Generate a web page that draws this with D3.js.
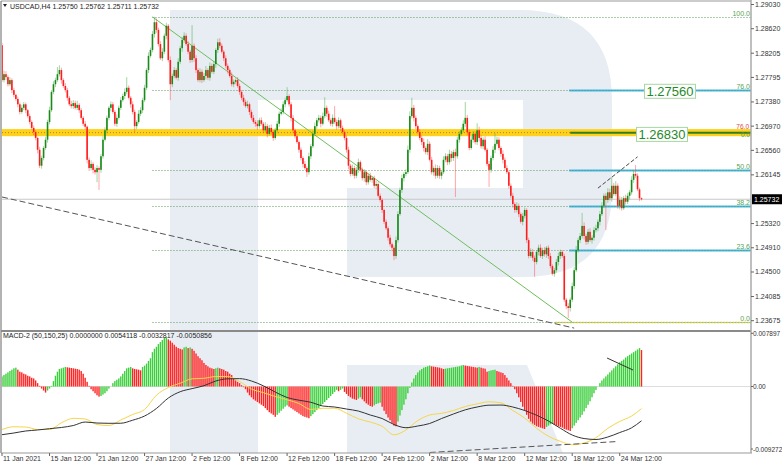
<!DOCTYPE html>
<html><head><meta charset="utf-8">
<script src="https://cdn.jsdelivr.net/npm/d3@7/dist/d3.min.js"></script>
<style>
html,body{margin:0;padding:0;background:#fff;}
svg{display:block;font-family:"Liberation Sans",Arial,sans-serif;}
</style></head><body>
<svg id="c" width="782" height="465"></svg>
<script>
// ---------------- DATA ----------------
const symbol = "USDCAD,H4";
const lastOHLC = [1.25750, 1.25762, 1.25711, 1.25732];
const firstOpen = 1.2834;
const closes = [
1.2775,1.2785,1.2780,1.2768,1.2775,1.2758,1.2750,1.2743,1.2734,1.2721,
1.2728,1.2734,1.2724,1.2714,1.2704,1.2694,1.2687,1.2677,1.2657,1.2630,
1.2643,1.2660,1.2674,1.2704,1.2724,1.2755,1.2768,1.2775,1.2785,1.2792,
1.2775,1.2765,1.2758,1.2745,1.2734,1.2731,1.2736,1.2728,1.2733,1.2724,
1.2711,1.2701,1.2696,1.2640,1.2626,1.2633,1.2623,1.2619,1.2626,1.2623,
1.2646,1.2674,1.2690,1.2711,1.2728,1.2734,1.2721,1.2701,1.2711,1.2728,
1.2741,1.2748,1.2755,1.2762,1.2745,1.2734,1.2721,1.2697,1.2704,1.2718,
1.2724,1.2741,1.2762,1.2792,1.2816,1.2826,1.2853,1.2873,1.2860,1.2836,
1.2812,1.2823,1.2850,1.2867,1.2809,1.2768,1.2782,1.2792,1.2779,1.2806,
1.2829,1.2843,1.2850,1.2836,1.2823,1.2809,1.2833,1.2812,1.2792,1.2775,
1.2789,1.2775,1.2782,1.2792,1.2779,1.2799,1.2789,1.2802,1.2826,1.2839,
1.2833,1.2823,1.2812,1.2799,1.2792,1.2782,1.2768,1.2772,1.2775,1.2765,
1.2755,1.2745,1.2738,1.2731,1.2734,1.2721,1.2711,1.2704,1.2701,1.2697,
1.2707,1.2701,1.2690,1.2697,1.2684,1.2694,1.2687,1.2677,1.2690,1.2701,
1.2718,1.2721,1.2734,1.2741,1.2748,1.2734,1.2711,1.2690,1.2680,1.2670,
1.2657,1.2643,1.2633,1.2626,1.2619,1.2646,1.2663,1.2684,1.2697,1.2707,
1.2711,1.2701,1.2714,1.2728,1.2718,1.2707,1.2701,1.2711,1.2704,1.2697,
1.2707,1.2694,1.2687,1.2677,1.2657,1.2630,1.2616,1.2626,1.2613,1.2623,
1.2636,1.2623,1.2609,1.2619,1.2602,1.2613,1.2606,1.2609,1.2596,1.2599,
1.2579,1.2572,1.2555,1.2535,1.2524,1.2508,1.2497,1.2491,1.2477,1.2504,
1.2548,1.2589,1.2609,1.2616,1.2619,1.2657,1.2714,1.2728,1.2711,1.2697,
1.2687,1.2677,1.2670,1.2660,1.2653,1.2667,1.2640,1.2619,1.2626,1.2613,
1.2626,1.2613,1.2619,1.2640,1.2646,1.2636,1.2650,1.2643,1.2653,1.2646,
1.2674,1.2684,1.2690,1.2701,1.2711,1.2687,1.2660,1.2674,1.2684,1.2670,
1.2690,1.2677,1.2663,1.2674,1.2657,1.2633,1.2623,1.2643,1.2657,1.2667,
1.2674,1.2660,1.2650,1.2640,1.2626,1.2619,1.2596,1.2579,1.2565,1.2555,
1.2562,1.2548,1.2535,1.2545,1.2555,1.2504,1.2477,1.2484,1.2474,1.2467,
1.2484,1.2491,1.2477,1.2487,1.2480,1.2491,1.2477,1.2460,1.2447,1.2453,
1.2467,1.2477,1.2484,1.2477,1.2403,1.2392,1.2389,1.2403,1.2426,1.2453,
1.2487,1.2504,1.2511,1.2528,1.2511,1.2501,1.2518,1.2504,1.2508,1.2521,
1.2524,1.2535,1.2548,1.2562,1.2579,1.2572,1.2585,1.2575,1.2596,1.2582,
1.2596,1.2562,1.2572,1.2558,1.2575,1.2569,1.2579,1.2585,1.2606,1.2616,
1.2613,1.2590,1.2575,1.25732];
// wick lengths beyond the body, in pips (0.0001)
const wickUp = [
4,6,5,3,5,3,4,2,4,3,5,4,3,2,4,3,4,3,2,5,
4,3,5,4,6,3,5,4,12,8,4,3,5,4,3,6,5,4,7,3,
4,3,5,2,4,6,3,4,5,3,4,6,5,4,3,5,4,3,6,4,
5,4,6,18,4,3,5,4,3,6,5,4,5,3,6,4,5,9,6,4,
5,6,4,5,3,6,4,5,3,6,4,5,6,4,5,3,35,4,5,3,
6,4,5,7,3,6,4,5,3,6,7,4,3,5,4,3,6,4,3,5,
4,3,5,4,6,3,4,5,3,6,4,5,3,7,4,5,6,3,4,5,
4,6,5,4,15,3,4,5,3,4,3,4,3,5,3,6,4,5,6,4,
5,4,6,18,4,5,3,6,20,4,5,3,4,3,4,5,3,6,4,5,
6,3,4,5,3,4,5,3,4,5,3,4,3,2,4,3,5,3,4,6,
5,4,6,3,5,7,8,17,5,4,3,5,4,6,3,8,4,5,3,6,
5,4,3,6,5,4,7,5,4,6,5,4,5,6,27,5,4,6,5,4,
12,6,5,4,6,3,5,4,6,18,5,4,3,6,4,5,3,4,5,3,
6,4,3,5,4,3,4,6,5,4,3,5,6,4,5,3,4,5,3,4,
5,6,4,3,4,3,5,4,6,5,7,4,5,22,6,4,5,6,4,5,
6,4,5,6,4,5,7,6,15,5,8,4,6,5,4,6,5,4,6,5,
15,4,3,1];
const wickDn = [
3,4,5,4,3,5,4,3,5,4,3,4,5,3,4,3,5,4,6,4,
5,4,3,5,4,3,4,5,3,4,6,3,4,5,3,4,5,3,4,5,
3,4,5,6,5,4,6,4,17,34,5,4,3,5,4,6,3,4,5,3,
4,3,5,4,3,6,4,10,5,3,4,5,3,4,5,3,4,6,5,4,
3,5,4,6,4,27,5,4,3,5,4,6,5,3,4,5,4,6,5,3,
4,5,3,6,4,5,3,4,6,5,4,3,5,4,6,3,4,5,4,3,
5,4,6,3,4,5,4,3,5,6,4,3,5,4,6,3,4,5,3,4,
5,3,4,5,3,4,6,5,4,3,5,4,6,3,8,4,5,3,4,5,
4,6,3,4,5,3,4,5,3,6,4,5,3,4,5,6,4,3,5,4,
5,3,4,6,5,4,3,5,4,6,3,4,5,4,3,5,4,6,7,5,
4,3,5,6,4,3,5,4,6,5,3,4,5,6,4,5,3,4,6,5,
4,5,6,3,4,5,4,6,5,69,4,5,3,4,5,6,4,3,5,4,
5,6,4,5,3,4,29,5,4,6,3,4,5,6,4,3,5,4,6,5,
4,5,3,6,4,5,4,3,5,25,4,6,3,5,4,6,5,4,3,5,
4,6,5,3,4,5,17,6,4,5,3,4,5,4,6,5,4,3,6,5,
4,5,6,3,4,51,5,4,6,3,4,5,6,4,3,5,4,6,4,5,
4,3,5,2];
const macdHist = [
0.0015,0.0017,0.0019,0.0021,0.0023,0.0025,0.0027,0.0028,0.0025,0.0022,
0.0021,0.0019,0.0018,0.0016,0.0015,0.0013,0.0012,0.0009,0.0005,0.0001,
-0.0003,-0.0006,-0.0009,-0.0006,-0.0003,0.0001,0.0008,0.0016,0.0022,0.0026,
0.0027,0.0028,0.0029,0.00285,0.0028,0.00275,0.0027,0.00265,0.0026,0.0025,
0.0023,0.0019,0.0013,0.0007,0.0001,-0.0004,-0.0007,-0.0010,-0.0013,-0.0015,
-0.0014,-0.0012,-0.0010,-0.0007,-0.0003,0.0000,0.0005,0.0008,0.0010,0.0012,
0.0015,0.0019,0.0023,0.0027,0.0028,0.0029,0.0027,0.0026,0.00255,0.0025,
0.0024,0.0029,0.0031,0.0034,0.0038,0.0042,0.0051,0.0056,0.0059,0.0063,
0.0066,0.0069,0.0072,0.0073,0.0070,0.0068,0.0065,0.0062,0.0059,0.0057,
0.0056,0.0055,0.0058,0.0059,0.0057,0.0058,0.0056,0.0053,0.0049,0.0045,
0.0042,0.0039,0.0035,0.0032,0.0030,0.0028,0.0027,0.0026,0.0027,0.0028,
0.0027,0.0026,0.0025,0.0023,0.0022,0.0019,0.0017,0.0012,0.0009,0.0007,
0.0005,0.0002,-0.0001,-0.0004,-0.0009,-0.0013,-0.0016,-0.0019,-0.0021,-0.0023,
-0.0025,-0.0027,-0.0029,-0.0032,-0.0035,-0.0038,-0.0040,-0.0042,-0.0045,-0.0042,
-0.0039,-0.0036,-0.0033,-0.0030,-0.0028,-0.0030,-0.0032,-0.0034,-0.0036,-0.0038,
-0.0040,-0.0042,-0.0044,-0.0045,-0.0046,-0.0047,-0.0044,-0.0041,-0.0038,-0.0035,
-0.0032,-0.0029,-0.0026,-0.0023,-0.0020,-0.0017,-0.0014,-0.0011,-0.0008,-0.0005,
-0.0007,-0.0005,-0.0003,-0.0008,-0.0011,-0.0014,-0.0016,-0.0018,-0.0019,-0.0020,
-0.0018,-0.0016,-0.0019,-0.0022,-0.0025,-0.0027,-0.0029,-0.0030,-0.0028,-0.0026,
-0.0025,-0.0024,-0.0030,-0.0036,-0.0041,-0.0046,-0.0050,-0.0054,-0.0058,-0.0059,
-0.0052,-0.0043,-0.0035,-0.0027,-0.0019,-0.0010,-0.0002,0.0006,0.0012,0.0017,
0.0021,0.0024,0.0026,0.0028,0.0029,0.0030,0.0031,0.0030,0.00295,0.0029,
0.00285,0.0028,0.0027,0.0026,0.00265,0.0027,0.00275,0.0028,0.00285,0.0029,
0.00295,0.0030,0.0031,0.0032,0.0031,0.00305,0.0030,0.00295,0.0029,0.00285,
0.0028,0.0029,0.0028,0.0027,0.00265,0.0022,0.0023,0.0024,0.00245,0.0025,
0.0023,0.0022,0.0021,0.0020,0.0017,0.0013,0.0009,0.0005,0.0001,-0.0004,
-0.0010,-0.0016,-0.0023,-0.0030,-0.0036,-0.0042,-0.0048,-0.0052,-0.0055,-0.0057,
-0.0059,-0.0060,-0.0061,-0.0062,-0.0063,-0.0060,-0.0058,-0.0056,-0.0055,-0.0057,
-0.0058,-0.0059,-0.0060,-0.0061,-0.0063,-0.0064,-0.0065,-0.0066,-0.0062,-0.0058,
-0.0054,-0.0050,-0.0046,-0.0042,-0.0037,-0.0032,-0.0027,-0.0022,-0.0016,-0.0010,
-0.0005,0.0000,0.0005,0.0009,0.0012,0.0015,0.0018,0.0021,0.0024,0.0027,
0.0030,0.0033,0.0036,0.0038,0.0040,0.0043,0.0045,0.0047,0.0049,0.0051,
0.0053,0.0055,0.0057,0.0054118];
// MACD lines sampled every 6 bars (bar index list)
const macdLineBars = [0,6,12,18,24,30,36,42,48,54,60,66,72,78,84,90,96,102,108,114,120,126,132,138,144,150,156,162,168,174,180,186,192,198,204,210,216,222,228,234,240,246,252,258,264,270,276,282,288,294,300,306,312,318,323];
const macdYellow = [
-0.00638,-0.00597,-0.00601,-0.00638,-0.00638,-0.00539,-0.00472,-0.00482,-0.00564,-0.00579,
-0.00497,-0.00415,-0.00341,-0.00129,-0.00015,0.00049,0.00114,0.00122,0.00148,0.00148,
0.00074,-0.00037,-0.00091,-0.00148,-0.00197,-0.00252,-0.00341,-0.00323,-0.00323,-0.00396,
-0.00479,-0.00527,-0.00591,-0.00717,-0.00645,-0.00505,-0.00423,-0.00398,-0.00356,-0.00297,
-0.00257,-0.00227,-0.00242,-0.00356,-0.00467,-0.00619,-0.00738,-0.00813,-0.00864,-0.00838,
-0.00760,-0.00620,-0.00519,-0.00438,-0.0032817];
const macdBlack = [
-0.00715,-0.00690,-0.00660,-0.00645,-0.00626,-0.00608,-0.00579,-0.00527,-0.00542,-0.00546,
-0.00545,-0.00500,-0.00438,-0.00326,-0.00171,-0.00077,-0.00031,0.00012,0.00082,0.00114,
0.00117,0.00082,0.00010,-0.00082,-0.00163,-0.00203,-0.00234,-0.00289,-0.00304,-0.00334,
-0.00364,-0.00423,-0.00475,-0.00564,-0.00611,-0.00586,-0.00549,-0.00475,-0.00408,-0.00346,
-0.00304,-0.00277,-0.00275,-0.00304,-0.00356,-0.00426,-0.00512,-0.00619,-0.00720,-0.00772,
-0.00786,-0.00749,-0.00683,-0.00613,-0.0050856];
const macdHeader = "MACD-2 (50,150,25) 0.0000000 0.0054118 -0.0032817 -0.0050856";
const priceTicks = [1.29030,1.28620,1.28205,1.27795,1.27380,1.26970,1.26560,1.26145,1.25320,1.24910,1.24500,1.24085,1.23675];
const macdTicks = [0.007897, 0, -0.009272];
const macdTickLabels = ["0.007897","0.00","-0.009272"];
const timeLabels = ["11 Jan 2021","15 Jan 12:00","21 Jan 12:00","27 Jan 12:00","2 Feb 12:00","8 Feb 12:00","12 Feb 12:00","18 Feb 12:00","24 Feb 12:00","2 Mar 12:00","8 Mar 12:00","12 Mar 12:00","18 Mar 12:00","24 Mar 12:00"];
const timeLabelBars = [0,24,48,72,96,120,144,168,192,216,240,264,288,312];
// Fibonacci retracement (bar, price)
const fibHigh = [76, 1.2882];
const fibLow = [288, 1.2365];
const fibRatios = [1, 0.76, 0.5, 0.382, 0.236, 0];
const fibNames = ["100.0","76.0","50.0","38.2","23.6","0.0"];
const targetLevels = [1.27560, 1.26830];
const zoneBand = [1.2680, 1.2692];
// drawn trend lines [bar, value]
const trendDashed = [[0, 1.2577], [289, 1.2355]];
const trendShort = [[301, 1.2592], [321, 1.2645]];
const macdDashed = [[216, -0.00979], [311, -0.00816]];
const macdShort = [[305.6, 0.00423], [318.7, 0.00245]];

// ---------------- DRAW ----------------
const svg = d3.select("#c");
const axisX = 751;
const mainTop = 2, mainBot = 330, macdTop = 332, macdBot = 453;
const x = d3.scaleLinear().domain([0, 323]).range([2, 641.5]);
const y = d3.scaleLinear().domain([1.23675, 1.29030]).range([320.7, 4.5]);
const ym = d3.scaleLinear().domain([-0.009272, 0.007897]).range([449, 333.3]);

const defs = svg.append("defs");
defs.append("clipPath").attr("id","cm").append("rect").attr("x",2).attr("y",mainTop).attr("width",axisX-2).attr("height",mainBot-mainTop);
defs.append("clipPath").attr("id","cd").append("rect").attr("x",2).attr("y",macdTop).attr("width",axisX-2).attr("height",macdBot-macdTop);

// watermark (background logo)
const wm = svg.append("g").attr("fill","#e8edf4");
wm.append("path").attr("d",
 "M170,10 L520,10 Q612,10 612,100 L612,190 Q612,277 523,277 L347,277 L347,188 L523,188 L523,100 L258,100 L258,453 L170,453 Z");
wm.append("path").attr("d","M347,365 L527,365 L563,453 L347,453 Z");

const gm = svg.append("g").attr("clip-path","url(#cm)");
const gd = svg.append("g").attr("clip-path","url(#cd)");

// zone band
const zoneMid = (zoneBand[0]+zoneBand[1])/2;
gm.append("rect").attr("x",2).attr("width",axisX-2)
  .attr("y", y(zoneBand[1])).attr("height", y(zoneBand[0]) - y(zoneBand[1]))
  .attr("fill","#ffd21a");
gm.append("line").attr("x1",2).attr("x2",x(fibLow[0])).attr("y1",y(zoneMid)).attr("y2",y(zoneMid))
  .attr("stroke","#c07a30").attr("stroke-width",1).attr("stroke-dasharray","1,2");
gm.append("line").attr("x1",x(fibLow[0])-2).attr("x2",axisX).attr("y1",y(zoneMid)).attr("y2",y(zoneMid))
  .attr("stroke","#2f7d2a").attr("stroke-width",2);

// current price line
gm.append("line").attr("x1",2).attr("x2",axisX).attr("y1",y(lastOHLC[3])).attr("y2",y(lastOHLC[3]))
  .attr("stroke","#c8c8c8").attr("stroke-width",1);

// fib levels
const fibRange = fibHigh[1] - fibLow[1];
fibRatios.forEach((r,k)=>{
  const p = fibLow[1] + r*fibRange, yy = Math.round(y(p))+0.5;
  if (r>0 && r<1) {
    gm.append("line").attr("x1",x(fibLow[0])-3).attr("x2",axisX).attr("y1",yy).attr("y2",yy)
      .attr("stroke","#43b8e6").attr("stroke-width",2);
  }
  if (r===0) {
    gm.append("line").attr("x1",x(fibLow[0])-17).attr("x2",axisX).attr("y1",yy).attr("y2",yy)
      .attr("stroke","#e0d23a").attr("stroke-width",1.5).attr("stroke-dasharray","2,1");
  }
  gm.append("line").attr("x1",x(fibHigh[0])).attr("x2",axisX).attr("y1",yy).attr("y2",yy)
    .attr("stroke","#5e9a5e").attr("stroke-width",1).attr("stroke-dasharray","1,2");
  svg.append("text").attr("x",axisX-1).attr("y",yy-1.5).attr("text-anchor","end")
    .attr("font-size",7).attr("fill","#5aa450").text(fibNames[k]);
});
// extra level labels at zone
svg.append("text").attr("x",axisX-2).attr("y",y(zoneBand[1])-0.5).attr("text-anchor","end")
  .attr("font-size",6.5).attr("fill","#e04848").text("76.0");
svg.append("text").attr("x",axisX-1).attr("y",y(zoneBand[0])+0.5).attr("text-anchor","end")
  .attr("font-size",6.5).attr("fill","#4f9a45").text("0.0");

// trend lines
gm.append("line").attr("x1",x(fibHigh[0])).attr("y1",y(fibHigh[1])).attr("x2",x(fibLow[0])).attr("y2",y(fibLow[1]))
  .attr("stroke","#6cbf5c").attr("stroke-width",1);
gm.append("line").attr("x1",x(trendDashed[0][0])).attr("y1",y(trendDashed[0][1])).attr("x2",x(trendDashed[1][0])).attr("y2",y(trendDashed[1][1]))
  .attr("stroke","#555").attr("stroke-width",1).attr("stroke-dasharray","6,3");
gm.append("line").attr("x1",x(trendShort[0][0])).attr("y1",y(trendShort[0][1])).attr("x2",x(trendShort[1][0])).attr("y2",y(trendShort[1][1]))
  .attr("stroke","#444").attr("stroke-width",1).attr("stroke-dasharray","4,2");

// candles
const bars = closes.map((c,i)=>{
  const o = i===0 ? firstOpen : closes[i-1];
  return {i, o, c, h: Math.max(o,c)+wickUp[i]*0.0001, l: Math.min(o,c)-wickDn[i]*0.0001};
});
bars[bars.length-1].o = lastOHLC[0];
bars[bars.length-1].h = lastOHLC[1];
bars[bars.length-1].l = lastOHLC[2];
const cg = gm.append("g");
cg.selectAll("line.w").data(bars).join("line").attr("class","w")
  .attr("x1",d=>x(d.i)).attr("x2",d=>x(d.i)).attr("y1",d=>y(d.h)).attr("y2",d=>y(d.l))
  .attr("stroke",d=>d.c>=d.o?"#36a336":"#ff3b3b").attr("stroke-opacity",0.45).attr("stroke-width",1);
cg.selectAll("rect.b").data(bars).join("rect").attr("class","b")
  .attr("x",d=>x(d.i)-0.8).attr("width",1.6)
  .attr("y",d=>y(Math.max(d.o,d.c))).attr("height",d=>Math.max(1,Math.abs(y(d.o)-y(d.c))))
  .attr("fill",d=>d.c>=d.o?"#178a17":"#ff1c1c");

// target level boxes
targetLevels.forEach((p,k)=>{
  const cx = k===0 ? 670 : 662;
  const g = svg.append("g");
  const t = g.append("text").attr("x",cx).attr("y",y(p)+4.5).attr("text-anchor","middle")
    .attr("font-size",13).attr("fill","#1f8a2a").text(p.toFixed(5));
  const bb = t.node().getBBox();
  g.insert("rect","text").attr("x",bb.x-2).attr("y",y(p)-7).attr("width",bb.width+4).attr("height",14)
    .attr("fill","#fff").attr("stroke","#a6d8a0").attr("stroke-width",1);
});

// MACD panel
gd.append("line").attr("x1",2).attr("x2",axisX).attr("y1",ym(0)).attr("y2",ym(0)).attr("stroke","#ddd");
gd.selectAll("rect.h").data(macdHist).join("rect").attr("class","h")
  .attr("x",(d,i)=>x(i)-0.7).attr("width",1.4)
  .attr("y",d=>Math.min(ym(d),ym(0))).attr("height",d=>Math.abs(ym(d)-ym(0)))
  .attr("fill",(d,i)=> (i===0 || d>macdHist[i-1]) ? "#3ccf3c" : "#ff2424");
const lineGen = d3.line().x(d=>x(d[0])).y(d=>ym(d[1])).curve(d3.curveMonotoneX);
gd.append("path").datum(macdLineBars.map((b,k)=>[b,macdYellow[k]])).attr("d",lineGen)
  .attr("fill","none").attr("stroke","#f5d64a").attr("stroke-width",1);
gd.append("path").datum(macdLineBars.map((b,k)=>[b,macdBlack[k]])).attr("d",lineGen)
  .attr("fill","none").attr("stroke","#333").attr("stroke-width",1);
gd.append("line").attr("x1",x(macdDashed[0][0])).attr("y1",ym(macdDashed[0][1])).attr("x2",x(macdDashed[1][0])).attr("y2",ym(macdDashed[1][1]))
  .attr("stroke","#555").attr("stroke-width",1).attr("stroke-dasharray","6,3");
gd.append("line").attr("x1",x(macdShort[0][0])).attr("y1",ym(macdShort[0][1])).attr("x2",x(macdShort[1][0])).attr("y2",ym(macdShort[1][1]))
  .attr("stroke","#333").attr("stroke-width",1);

// frames
svg.append("line").attr("x1",1).attr("x2",axisX).attr("y1",1).attr("y2",1).attr("stroke","#999");
svg.append("line").attr("x1",1).attr("x2",1).attr("y1",1).attr("y2",macdBot).attr("stroke","#666");
svg.append("line").attr("x1",1).attr("x2",axisX).attr("y1",331).attr("y2",331).attr("stroke","#8a8a8a").attr("stroke-width",2);
svg.append("line").attr("x1",1).attr("x2",axisX+1).attr("y1",macdBot).attr("y2",macdBot).attr("stroke","#999");
svg.append("line").attr("x1",axisX).attr("x2",axisX).attr("y1",0).attr("y2",macdBot).attr("stroke","#aaa").attr("stroke-width",1.5);

// right price axis
const ra = svg.append("g").attr("font-size",7).attr("fill","#333");
priceTicks.forEach(p=>{
  ra.append("line").attr("x1",axisX).attr("x2",axisX+3).attr("y1",y(p)).attr("y2",y(p)).attr("stroke","#666");
  ra.append("text").attr("x",axisX+4).attr("y",y(p)+2.5).text(p.toFixed(5));
});
ra.append("rect").attr("x",axisX+1).attr("y",y(lastOHLC[3])-5).attr("width",30).attr("height",10).attr("fill","#000");
ra.append("text").attr("x",axisX+3).attr("y",y(lastOHLC[3])+2.5).attr("fill","#fff").text(lastOHLC[3].toFixed(5));
macdTicks.forEach((v,k)=>{
  ra.append("line").attr("x1",axisX).attr("x2",axisX+2).attr("y1",ym(v)).attr("y2",ym(v)).attr("stroke","#666");
  ra.append("text").attr("x",axisX+2).attr("y",ym(v)+2.5).attr("font-size",6.5).text(macdTickLabels[k]);
});

// bottom time axis
const ba = svg.append("g").attr("font-size",7).attr("fill","#333");
timeLabels.forEach((t,k)=>{
  const xx = x(timeLabelBars[k]);
  ba.append("line").attr("x1",xx).attr("x2",xx).attr("y1",macdBot).attr("y2",macdBot+3).attr("stroke","#666");
  ba.append("text").attr("x",xx+1).attr("y",461).text(t);
});

// headers
svg.append("path").attr("d","M3,4 L7,4 L5,7 Z").attr("fill","#222");
svg.append("text").attr("x",10).attr("y",8.5).attr("font-size",7).attr("fill","#222")
  .text(symbol + "  " + lastOHLC.map(v=>v.toFixed(5)).join(" "));
svg.append("text").attr("x",3).attr("y",338).attr("font-size",7).attr("fill","#222").text(macdHeader);
</script>
</body></html>
